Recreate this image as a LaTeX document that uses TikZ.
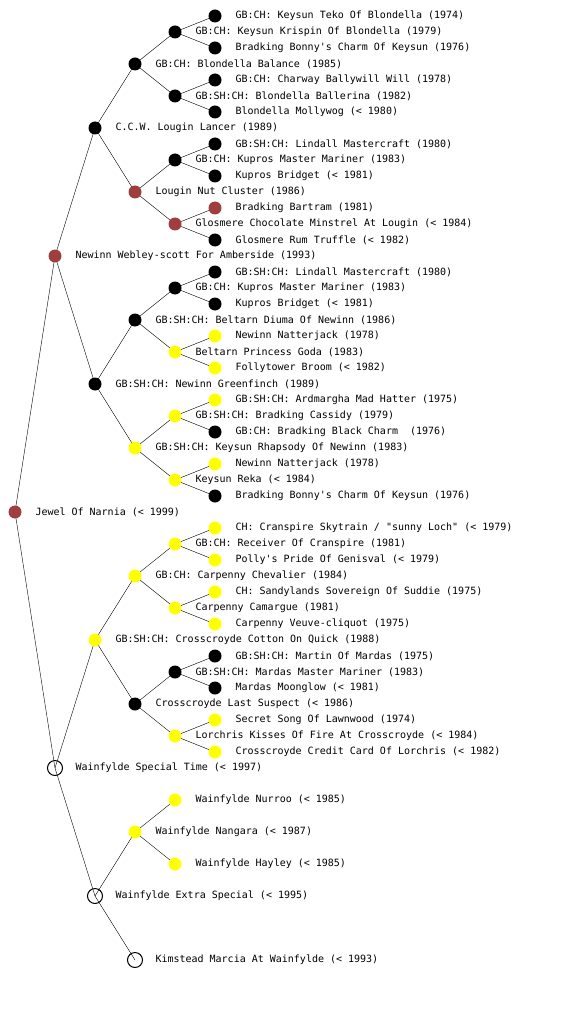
\documentclass[tikz,border=0pt]{standalone}
\usepackage{fontspec}
\setmonofont{DejaVu Sans Mono}
\usetikzlibrary{backgrounds}
\definecolor{dotred}{RGB}{158,62,62}
\definecolor{dotyellow}{RGB}{255,255,0}

\begin{document}
\begin{tikzpicture}[x=1pt,y=-1pt,line width=1pt,
  dog/.style={circle,inner sep=0pt,minimum size=13pt},
  blk/.style={dog,fill=black},
  rd/.style={dog,fill=dotred},
  yl/.style={dog,fill=dotyellow},
  wt/.style={dog,draw=black,minimum size=15pt},
  lbl/.style={anchor=west,inner sep=0pt,font=\ttfamily\fontsize{10}{12}\selectfont}]
  \useasboundingbox (0,0) rectangle (560,1024);
  % dogs: row / generation / colour / name
  \foreach \n/\lv/\col/\t in {
    16/5/blk/{GB:CH: Keysun Teko Of Blondella (1974)},
    32/4/blk/{GB:CH: Keysun Krispin Of Blondella (1979)},
    48/5/blk/{Bradking Bonny's Charm Of Keysun (1976)},
    64/3/blk/{GB:CH: Blondella Balance (1985)},
    80/5/blk/{GB:CH: Charway Ballywill Will (1978)},
    96/4/blk/{GB:SH:CH: Blondella Ballerina (1982)},
    112/5/blk/{Blondella Mollywog (< 1980)},
    128/2/blk/{C.C.W. Lougin Lancer (1989)},
    144/5/blk/{GB:SH:CH: Lindall Mastercraft (1980)},
    160/4/blk/{GB:CH: Kupros Master Mariner (1983)},
    176/5/blk/{Kupros Bridget (< 1981)},
    192/3/rd/{Lougin Nut Cluster (1986)},
    208/5/rd/{Bradking Bartram (1981)},
    224/4/rd/{Glosmere Chocolate Minstrel At Lougin (< 1984)},
    240/5/blk/{Glosmere Rum Truffle (< 1982)},
    256/1/rd/{Newinn Webley-scott For Amberside (1993)},
    272/5/blk/{GB:SH:CH: Lindall Mastercraft (1980)},
    288/4/blk/{GB:CH: Kupros Master Mariner (1983)},
    304/5/blk/{Kupros Bridget (< 1981)},
    320/3/blk/{GB:SH:CH: Beltarn Diuma Of Newinn (1986)},
    336/5/yl/{Newinn Natterjack (1978)},
    352/4/yl/{Beltarn Princess Goda (1983)},
    368/5/yl/{Follytower Broom (< 1982)},
    384/2/blk/{GB:SH:CH: Newinn Greenfinch (1989)},
    400/5/yl/{GB:SH:CH: Ardmargha Mad Hatter (1975)},
    416/4/yl/{GB:SH:CH: Bradking Cassidy (1979)},
    432/5/blk/{GB:CH: Bradking Black Charm\ \ (1976)},
    448/3/yl/{GB:SH:CH: Keysun Rhapsody Of Newinn (1983)},
    464/5/yl/{Newinn Natterjack (1978)},
    480/4/yl/{Keysun Reka (< 1984)},
    496/5/blk/{Bradking Bonny's Charm Of Keysun (1976)},
    512/0/rd/{Jewel Of Narnia (< 1999)},
    528/5/yl/{CH: Cranspire Skytrain / "sunny Loch" (< 1979)},
    544/4/yl/{GB:CH: Receiver Of Cranspire (1981)},
    560/5/yl/{Polly's Pride Of Genisval (< 1979)},
    576/3/yl/{GB:CH: Carpenny Chevalier (1984)},
    592/5/yl/{CH: Sandylands Sovereign Of Suddie (1975)},
    608/4/yl/{Carpenny Camargue (1981)},
    624/5/yl/{Carpenny Veuve-cliquot (1975)},
    640/2/yl/{GB:SH:CH: Crosscroyde Cotton On Quick (1988)},
    656/5/blk/{GB:SH:CH: Martin Of Mardas (1975)},
    672/4/blk/{GB:SH:CH: Mardas Master Mariner (1983)},
    688/5/blk/{Mardas Moonglow (< 1981)},
    704/3/blk/{Crosscroyde Last Suspect (< 1986)},
    720/5/yl/{Secret Song Of Lawnwood (1974)},
    736/4/yl/{Lorchris Kisses Of Fire At Crosscroyde (< 1984)},
    752/5/yl/{Crosscroyde Credit Card Of Lorchris (< 1982)},
    768/1/wt/{Wainfylde Special Time (< 1997)},
    800/4/yl/{Wainfylde Nurroo (< 1985)},
    832/3/yl/{Wainfylde Nangara (< 1987)},
    864/4/yl/{Wainfylde Hayley (< 1985)},
    896/2/wt/{Wainfylde Extra Special (< 1995)},
    960/3/wt/{Kimstead Marcia At Wainfylde (< 1993)}}{
    \node[\col] (p\n) at (15+40*\lv,\n) {};
    \node[lbl] (t\n) at (35+40*\lv,\n) {\t};
  }
  % sire and dam lines
  \begin{scope}[on background layer]
    \foreach \a/\s/\d in {512/256/768, 256/128/384, 128/64/192, 64/32/96,
      32/16/48, 96/80/112, 192/160/224, 160/144/176, 224/208/240,
      384/320/448, 320/288/352, 288/272/304, 352/336/368, 448/416/480,
      416/400/432, 480/464/496, 768/640/896, 640/576/704, 576/544/608,
      544/528/560, 608/592/624, 704/672/736, 672/656/688, 736/720/752,
      896/832/960, 832/800/864}{
      \draw (p\a.center) -- (p\s.center) (p\a.center) -- (p\d.center);
    }
  \end{scope}
\end{tikzpicture}
\end{document}
